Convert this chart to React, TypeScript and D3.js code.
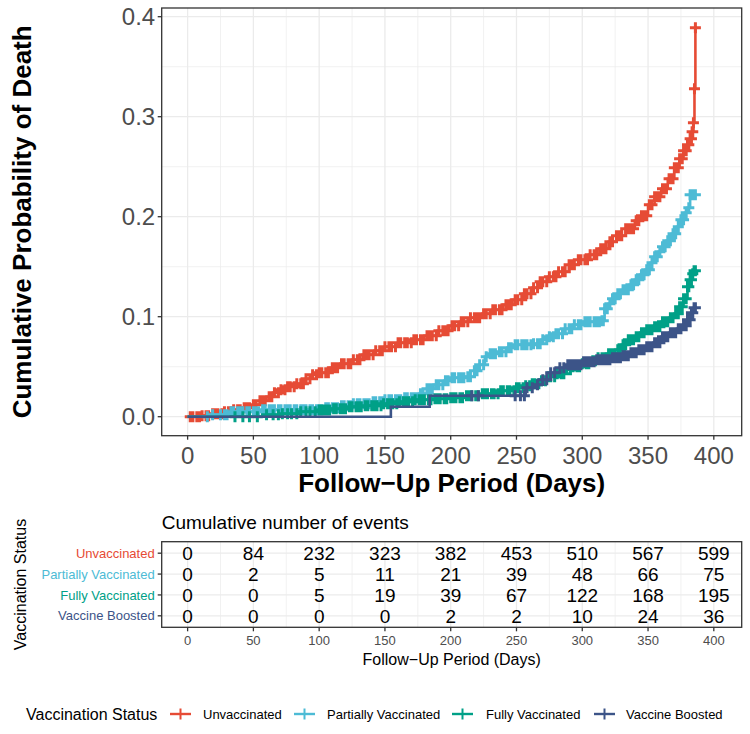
import React from "react";
import * as d3 from "d3";

const W = 750;
const H = 734;
const FONT = "'Liberation Sans', Arial, Helvetica, sans-serif";

const groups = ["Unvaccinated", "Partially Vaccinated", "Fully Vaccinated", "Vaccine Boosted"];
const colors = ["#E64B35", "#4DBBD5", "#00A087", "#3C5488"];

// step curves: [day, cumulative probability of death]
const unvaccinatedCurve: [number, number][] = [
  [0, 0], [10, 0.001], [19, 0.003], [27, 0.005], [34, 0.007], [42, 0.009], [50, 0.012],
  [55, 0.016], [60, 0.02], [65, 0.024], [70, 0.027], [76, 0.03], [83, 0.033], [90, 0.038],
  [95, 0.042], [100, 0.044], [108, 0.049], [116, 0.053], [125, 0.057], [133, 0.062],
  [142, 0.066], [150, 0.07], [160, 0.074], [171, 0.077], [180, 0.081], [190, 0.086],
  [199, 0.091], [207, 0.095], [215, 0.099], [224, 0.103], [232, 0.107], [240, 0.112],
  [247, 0.117], [255, 0.123], [262, 0.129], [268, 0.135], [274, 0.14], [282, 0.145],
  [290, 0.152], [297, 0.157], [305, 0.162], [313, 0.168], [320, 0.175], [326, 0.181],
  [333, 0.188], [340, 0.196], [345, 0.201], [350, 0.212], [355, 0.22], [360, 0.228],
  [365, 0.238], [370, 0.249], [374, 0.258], [377, 0.266], [380, 0.272], [382, 0.278],
  [383.5, 0.285], [384.5, 0.294], [385.3, 0.328], [386, 0.389],
];
const partialCurve: [number, number][] = [
  [0, 0], [18, 0.002], [33, 0.005], [57, 0.007], [105, 0.009], [115, 0.011], [125, 0.013],
  [140, 0.015], [150, 0.017], [165, 0.019], [176, 0.023], [182, 0.028], [187, 0.032],
  [195, 0.036], [201, 0.039], [211, 0.04], [218, 0.046], [222, 0.052], [226, 0.06],
  [230, 0.063], [237, 0.065], [243, 0.069], [249, 0.072], [262, 0.073], [269, 0.077],
  [275, 0.08], [280, 0.083], [287, 0.088], [293, 0.092], [300, 0.095], [315, 0.096],
  [317, 0.108], [320, 0.113], [323, 0.118], [327, 0.123], [331, 0.127], [336, 0.132],
  [340, 0.137], [344, 0.142], [348, 0.147], [352, 0.154], [355, 0.16], [358, 0.165],
  [361, 0.17], [364, 0.176], [368, 0.183], [372, 0.19], [375, 0.197], [378, 0.204],
  [380, 0.209], [382, 0.222], [386, 0.222],
];
const fullCurve: [number, number][] = [
  [0, 0], [60, 0.002], [72, 0.003], [85, 0.005], [98, 0.0067], [110, 0.008], [123, 0.01],
  [135, 0.011], [148, 0.013], [160, 0.015], [173, 0.017], [186, 0.018], [199, 0.019],
  [212, 0.021], [224, 0.023], [237, 0.026], [249, 0.029], [256, 0.031], [262, 0.033],
  [268, 0.036], [274, 0.04], [280, 0.043], [287, 0.047], [293, 0.05], [300, 0.053],
  [306, 0.056], [312, 0.059], [318, 0.063], [325, 0.067], [330, 0.072], [335, 0.077],
  [340, 0.08], [344, 0.084], [348, 0.087], [354, 0.09], [360, 0.095], [366, 0.099],
  [370, 0.103], [374, 0.11], [377, 0.118], [380, 0.13], [382, 0.137], [383.5, 0.143],
  [385, 0.146], [386, 0.146],
];
const boostedCurve: [number, number][] = [
  [0, 0], [154.5, 0.01], [184, 0.021], [257, 0.029], [263, 0.032], [270, 0.037],
  [276, 0.044], [283, 0.049], [289, 0.052], [300, 0.055], [310, 0.057], [322, 0.059],
  [330, 0.061], [336, 0.064], [342, 0.067], [348, 0.07], [354, 0.074], [360, 0.08],
  [366, 0.084], [372, 0.088], [377, 0.091], [380, 0.097], [383, 0.104], [385, 0.109],
  [386, 0.109],
];

// censoring times (days)
const unvaccinatedCensor = [
  2, 4, 7, 9, 11, 14, 16, 19, 21, 23, 26, 28, 31, 33, 35, 38, 40, 43, 45, 47, 50, 52, 55,
  57, 59, 62, 64, 66, 69, 71, 74, 76, 78, 81, 83, 86, 88, 90, 93, 95, 98, 100, 102, 105,
  107, 110, 112, 114, 117, 119, 122, 124, 126, 129, 131, 134, 136, 138, 141, 143, 146, 148,
  150, 153, 155, 158, 160, 162, 165, 167, 170, 172, 174, 177, 179, 182, 184, 186, 189, 191,
  194, 196, 198, 201, 203, 206, 208, 210, 213, 215, 218, 220, 222, 225, 227, 230, 232, 234,
  237, 239, 242, 244, 246, 249, 251, 254, 256, 258, 261, 263, 266, 268, 270, 273, 275, 278,
  280, 282, 285, 287, 290, 292, 294, 297, 299, 302, 304, 306, 309, 311, 314, 316, 318, 321,
  323, 326, 328, 330, 333, 335, 337, 339, 341, 343, 345, 347, 349, 351, 353, 355, 357, 359,
  361, 363, 364, 366, 367, 369, 370, 372, 373, 374, 376, 377, 378, 379, 380, 381, 382, 383,
  383.5, 384, 384.5, 385.3, 386,
];
const partialCensor = [
  15, 19, 25, 28, 30, 33, 35, 38, 40, 42, 45, 47, 50, 52, 54, 57, 59, 62, 64, 66, 69, 71,
  74, 76, 78, 81, 83, 86, 88, 90, 93, 95, 98, 100, 102, 105, 107, 110, 112, 114, 117, 119,
  122, 124, 126, 129, 131, 134, 136, 138, 141, 143, 146, 148, 150, 153, 155, 158, 160, 162,
  165, 167, 170, 172, 174, 177, 179, 182, 184, 186, 189, 191, 194, 196, 198, 201, 203, 206,
  208, 210, 213, 215, 218, 220, 222, 225, 227, 230, 232, 234, 237, 239, 242, 244, 246, 249,
  251, 254, 256, 258, 261, 263, 266, 268, 270, 273, 275, 278, 280, 282, 285, 287, 290, 292,
  294, 297, 299, 302, 304, 306, 309, 311, 313, 315, 316, 317, 319, 321, 323, 325, 327, 329,
  331, 333, 335, 337, 339, 341, 343, 345, 347, 349, 351, 353, 355, 357, 359, 361, 363, 365,
  367, 369, 371, 373, 375, 377, 379, 381, 382, 384, 385, 386,
];
const fullCensor = [
  36, 42, 47, 53, 60, 65, 69, 72, 76, 79, 83, 86, 90, 93, 97, 100, 102, 104, 106, 108, 111,
  113, 116, 118, 120, 123, 125, 128, 130, 132, 135, 137, 140, 142, 144, 147, 149, 152, 154,
  156, 159, 161, 164, 166, 168, 171, 173, 176, 178, 180, 183, 185, 188, 190, 192, 195, 197,
  200, 202, 204, 207, 209, 212, 214, 216, 219, 221, 224, 226, 228, 231, 233, 236, 238, 240,
  243, 245, 248, 250, 252, 255, 257, 260, 262, 264, 267, 269, 272, 274, 276, 279, 281, 284,
  286, 288, 291, 293, 296, 298, 300, 303, 305, 308, 310, 312, 315, 317, 320, 322, 324, 327,
  329, 331, 333, 335, 337, 339, 341, 343, 345, 347, 349, 351, 353, 355, 357, 359, 361, 363,
  365, 367, 369, 371, 373, 374, 375, 376, 377, 378, 379, 380, 381, 382, 383, 384, 385, 386,
];
const boostedCensor = [
  216, 221, 249, 253, 256, 258, 262, 266, 270, 273, 276, 279, 283, 286, 289, 291, 293, 295,
  297, 299, 301, 303, 305, 307, 309, 311, 313, 315, 317, 319, 321, 323, 325, 327, 329, 331,
  333, 335, 337, 339, 341, 343, 345, 347, 349, 351, 353, 355, 357, 359, 361, 363, 365, 367,
  369, 371, 373, 375, 377, 379, 380, 381, 382, 383, 384, 385, 386,
];

const curves = [unvaccinatedCurve, partialCurve, fullCurve, boostedCurve];
const censors = [unvaccinatedCensor, partialCensor, fullCensor, boostedCensor];

const xTicks = [0, 50, 100, 150, 200, 250, 300, 350, 400];
const xMinor = [25, 75, 125, 175, 225, 275, 325, 375];
const yTicks = [0, 0.1, 0.2, 0.3, 0.4];
const yMinor = [0.05, 0.15, 0.25, 0.35];

// cumulative number of events at 0, 50, ..., 400 days
const riskTimes = [0, 50, 100, 150, 200, 250, 300, 350, 400];
const eventsUnvaccinated = [0, 84, 232, 323, 382, 453, 510, 567, 599];
const eventsPartial = [0, 2, 5, 11, 21, 39, 48, 66, 75];
const eventsFull = [0, 0, 5, 19, 39, 67, 122, 168, 195];
const eventsBoosted = [0, 0, 0, 0, 2, 2, 10, 24, 36];
const events = [eventsUnvaccinated, eventsPartial, eventsFull, eventsBoosted];

const P = { left: 161.7, right: 741.7, top: 8, bottom: 435.7 };
const T = { top: 541.7, bottom: 627.3 };

const x = d3.scaleLinear().domain([-19.7, 421.2]).range([P.left, P.right]);
const y = d3.scaleLinear().domain([-0.019, 0.4087]).range([P.bottom, P.top]);
const row = d3.scalePoint<string>().domain(groups).range([T.top, T.bottom]).padding(0.55);

const line = d3
  .line<[number, number]>()
  .x(d => x(d[0]))
  .y(d => y(d[1]))
  .curve(d3.curveStepAfter);

const stepAt = (curve: [number, number][], t: number) => {
  const i = d3.bisector((d: [number, number]) => d[0]).right(curve, t) - 1;
  return curve[Math.max(0, i)][1];
};

const plus = (cx: number, cy: number, r: number) =>
  `M${cx - r},${cy}h${2 * r}M${cx},${cy - r}v${2 * r}`;

const grid = "#EBEBEB";
const dark = "#333333";
const tickText = "#4D4D4D";

const legendItems = [
  { key: 170, label: 203 },
  { key: 294, label: 327 },
  { key: 452, label: 486 },
  { key: 594, label: 626 },
];
const LY = 714;

export default function App() {
  return (
    <svg
      width={W}
      height={H}
      style={{ position: "absolute", left: 0, top: 0, background: "white" }}
      fontFamily={FONT}
    >
      {/* main panel */}
      <rect x={P.left} y={P.top} width={P.right - P.left} height={P.bottom - P.top} fill="white" />
      {xMinor.map(t => (
        <line key={"xm" + t} x1={x(t)} x2={x(t)} y1={P.top} y2={P.bottom} stroke={grid} strokeWidth={0.7} />
      ))}
      {yMinor.map(v => (
        <line key={"ym" + v} x1={P.left} x2={P.right} y1={y(v)} y2={y(v)} stroke={grid} strokeWidth={0.7} />
      ))}
      {xTicks.map(t => (
        <line key={"xg" + t} x1={x(t)} x2={x(t)} y1={P.top} y2={P.bottom} stroke={grid} strokeWidth={1.3} />
      ))}
      {yTicks.map(v => (
        <line key={"yg" + v} x1={P.left} x2={P.right} y1={y(v)} y2={y(v)} stroke={grid} strokeWidth={1.3} />
      ))}

      {curves.map((c, i) => (
        <g key={groups[i]}>
          <path d={line(c) || ""} fill="none" stroke={colors[i]} strokeWidth={2.6} />
          <path
            d={censors[i].map(t => plus(x(t), y(stepAt(c, t)), 5.5)).join("")}
            fill="none"
            stroke={colors[i]}
            strokeWidth={3}
          />
        </g>
      ))}

      <rect
        x={P.left}
        y={P.top}
        width={P.right - P.left}
        height={P.bottom - P.top}
        fill="none"
        stroke={dark}
        strokeWidth={1.3}
      />
      {xTicks.map(t => (
        <g key={"xt" + t}>
          <line x1={x(t)} x2={x(t)} y1={P.bottom} y2={P.bottom + 4} stroke={dark} strokeWidth={1.3} />
          <text x={x(t)} y={463.5} textAnchor="middle" fontSize={24} fill={tickText}>
            {t}
          </text>
        </g>
      ))}
      {yTicks.map(v => (
        <g key={"yt" + v}>
          <line x1={P.left - 4} x2={P.left} y1={y(v)} y2={y(v)} stroke={dark} strokeWidth={1.3} />
          <text x={P.left - 6.5} y={y(v)} dy="0.36em" textAnchor="end" fontSize={24} fill={tickText}>
            {d3.format(".1f")(v)}
          </text>
        </g>
      ))}
      <text x={(P.left + P.right) / 2} y={492} textAnchor="middle" fontSize={26} fontWeight="bold" fill="black">
        Follow−Up Period (Days)
      </text>
      <text
        transform={`translate(31,${(P.top + P.bottom) / 2}) rotate(-90)`}
        textAnchor="middle"
        fontSize={26}
        fontWeight="bold"
        fill="black"
      >
        Cumulative Probability of Death
      </text>

      {/* risk table */}
      <text x={P.left} y={529} fontSize={19} fill="black">
        Cumulative number of events
      </text>
      <rect x={P.left} y={T.top} width={P.right - P.left} height={T.bottom - T.top} fill="white" />
      {xMinor.map(t => (
        <line key={"txm" + t} x1={x(t)} x2={x(t)} y1={T.top} y2={T.bottom} stroke={grid} strokeWidth={0.7} />
      ))}
      {xTicks.map(t => (
        <line key={"txg" + t} x1={x(t)} x2={x(t)} y1={T.top} y2={T.bottom} stroke={grid} strokeWidth={1.3} />
      ))}
      {groups.map(g => (
        <line key={"tyg" + g} x1={P.left} x2={P.right} y1={row(g)} y2={row(g)} stroke={grid} strokeWidth={1.3} />
      ))}
      {groups.map((g, i) =>
        events[i].map((n, j) => (
          <text
            key={g + j}
            x={x(riskTimes[j])}
            y={row(g)}
            dy="0.36em"
            textAnchor="middle"
            fontSize={19}
            fill="black"
          >
            {n}
          </text>
        ))
      )}
      <rect
        x={P.left}
        y={T.top}
        width={P.right - P.left}
        height={T.bottom - T.top}
        fill="none"
        stroke={dark}
        strokeWidth={1.3}
      />
      {groups.map((g, i) => (
        <g key={"tl" + g}>
          <line x1={P.left - 4} x2={P.left} y1={row(g)} y2={row(g)} stroke={dark} strokeWidth={1.3} />
          <text x={P.left - 7} y={row(g)} dy="0.36em" textAnchor="end" fontSize={13} fill={colors[i]}>
            {g}
          </text>
        </g>
      ))}
      {xTicks.map(t => (
        <g key={"txt" + t}>
          <line x1={x(t)} x2={x(t)} y1={T.bottom} y2={T.bottom + 4} stroke={dark} strokeWidth={1.3} />
          <text x={x(t)} y={640} dy="0.36em" textAnchor="middle" fontSize={13} fill={tickText}>
            {t}
          </text>
        </g>
      ))}
      <text x={(P.left + P.right) / 2} y={659} dy="0.36em" textAnchor="middle" fontSize={16} fill="black">
        Follow−Up Period (Days)
      </text>
      <text
        transform={`translate(20,${(T.top + T.bottom) / 2}) rotate(-90)`}
        dy="0.36em"
        textAnchor="middle"
        fontSize={16}
        fill="black"
      >
        Vaccination Status
      </text>

      {/* legend */}
      <text x={26} y={LY} dy="0.36em" fontSize={16} fill="black">
        Vaccination Status
      </text>
      {groups.map((g, i) => (
        <g key={"lg" + g}>
          <line
            x1={legendItems[i].key}
            x2={legendItems[i].key + 21}
            y1={LY}
            y2={LY}
            stroke={colors[i]}
            strokeWidth={2.4}
          />
          <path d={plus(legendItems[i].key + 10.5, LY, 5.5)} stroke={colors[i]} strokeWidth={2} />
          <text x={legendItems[i].label} y={LY} dy="0.36em" fontSize={13} fill="black">
            {g}
          </text>
        </g>
      ))}
    </svg>
  );
}
